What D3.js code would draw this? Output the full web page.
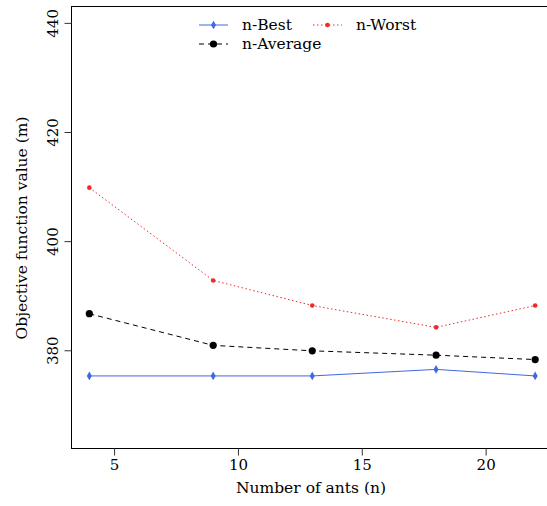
<!DOCTYPE html>
<html>
<head>
<meta charset="utf-8">
<script src="https://cdn.jsdelivr.net/npm/d3@7.9.0/dist/d3.min.js"></script>
<style>
  html, body { margin: 0; padding: 0; background: #fff; }
</style>
</head>
<body>
<svg id="chart" width="547" height="506"></svg>
<script>
// data
const ants = [4, 9, 13, 18, 22];
const nBest = [375.3, 375.3, 375.3, 376.5, 375.3];
const nWorst = [409.8, 392.8, 388.2, 384.2, 388.2];
const nAverage = [386.7, 380.9, 379.9, 379.1, 378.3];
const xTicks = [5, 10, 15, 20];
const yTicks = [380, 400, 420, 440];

const serif = '"DejaVu Serif", "Liberation Serif", serif';
const svg = d3.select('#chart').attr('font-family', serif);
const plotLeft = 71.5, plotTop = 6.5, plotBottom = 448.5, plotRight = 553;

// R style domains: limits padded 4% each side
let x = d3.scaleLinear().domain([3.28, 22.72]).range([plotLeft, plotRight]);
let y = d3.scaleLinear().domain([362, 443]).range([plotBottom, plotTop]);

// box (right edge falls outside the page)
svg.append('rect')
  .attr('x', plotLeft).attr('y', plotTop)
  .attr('width', plotRight - plotLeft).attr('height', plotBottom - plotTop)
  .attr('fill', 'none').attr('stroke', '#000').attr('stroke-width', 1);

// y axis
let yAxis = svg.append('g').attr('transform', `translate(${plotLeft},0)`)
  .call(d3.axisLeft(y).tickValues(yTicks).tickSize(7).tickSizeOuter(0))
  .attr('font-family', serif);
yAxis.select('.domain').remove();
yAxis.selectAll('line').attr('stroke', '#333');
yAxis.selectAll('text')
  .attr('font-size', 15)
  .attr('fill', '#000')
  .attr('text-anchor', 'middle')
  .attr('dy', null)
  .attr('x', null)
  .attr('transform', 'translate(-14,0) rotate(-90)');

// x axis
let xAxis = svg.append('g').attr('transform', `translate(0,${plotBottom})`)
  .call(d3.axisBottom(x).tickValues(xTicks).tickSize(7).tickSizeOuter(0))
  .attr('font-family', serif);
xAxis.select('.domain').remove();
xAxis.selectAll('line').attr('stroke', '#333');
xAxis.selectAll('text').attr('font-size', 15).attr('fill', '#000').attr('y', 11);

svg.append('text')
  .attr('x', 311).attr('y', 493)
  .attr('text-anchor', 'middle').attr('font-size', 15.5)
  .text('Number of ants (n)');

svg.append('text')
  .attr('transform', 'translate(27,228) rotate(-90)')
  .attr('text-anchor', 'middle').attr('font-size', 15.5)
  .text('Objective function value (m)');

const series = [
  {name: 'n-Best', values: nBest, color: '#4169e1', dash: null, r: 2.6, shape: 'diamond'},
  {name: 'n-Worst', values: nWorst, color: '#ee2a2a', dash: '1.5,2.5', r: 2.3, shape: 'circle'},
  {name: 'n-Average', values: nAverage, color: '#000', dash: '5,4', r: 3.6, shape: 'circle'},
];

let line = d3.line().x((d) => x(d[0])).y((d) => y(d[1]));

function marker(g, s, cx, cy) {
  if (s.shape === 'diamond') {
    g.append('path')
      .attr('d', d3.symbol(d3.symbolDiamond, 22)())
      .attr('transform', `translate(${cx},${cy})`)
      .attr('fill', s.color);
  } else {
    g.append('circle').attr('cx', cx).attr('cy', cy).attr('r', s.r).attr('fill', s.color);
  }
}

series.forEach((s) => {
  let pts = ants.map((a, i) => [a, s.values[i]]);
  let g = svg.append('g');
  g.append('path')
    .attr('d', line(pts))
    .attr('fill', 'none')
    .attr('stroke', s.color)
    .attr('stroke-width', 1)
    .attr('stroke-dasharray', s.dash);
  pts.forEach((p) => marker(g, s, x(p[0]), y(p[1])));
});

// legend, no frame
const legendPos = [[199, 25], [313, 25], [199, 44]];
series.forEach((s, i) => {
  let [lx, ly] = legendPos[i];
  let g = svg.append('g');
  g.append('line')
    .attr('x1', lx).attr('x2', lx + 29).attr('y1', ly).attr('y2', ly)
    .attr('stroke', s.color).attr('stroke-width', 1)
    .attr('stroke-dasharray', s.dash);
  marker(g, s, lx + 14.5, ly);
  g.append('text')
    .attr('x', lx + 43).attr('y', ly + 5)
    .attr('font-size', 15.5)
    .text(s.name);
});
</script>
</body>
</html>
